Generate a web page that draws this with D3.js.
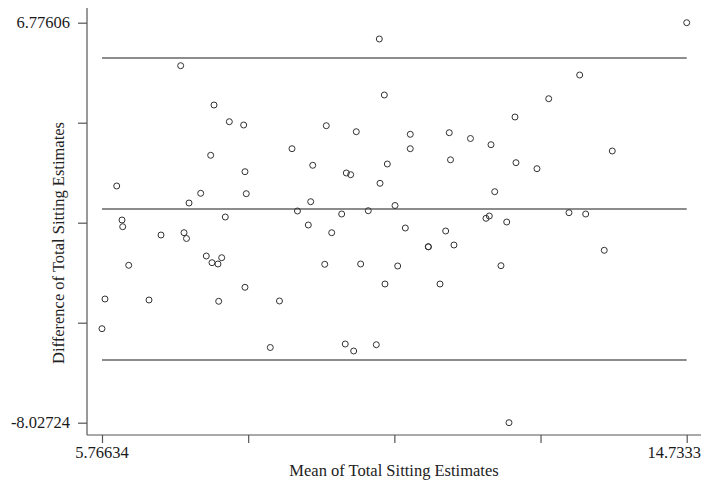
<!DOCTYPE html>
<html>
<head>
<meta charset="utf-8">
<script src="https://cdn.jsdelivr.net/npm/d3@7/dist/d3.min.js"></script>
<style>
html,body{margin:0;padding:0;background:#fff;}
svg{display:block;font-family:"Liberation Serif","Times New Roman",serif;}
</style>
</head>
<body>
<svg id="chart" width="702" height="480"></svg>
<script>
const xDomain = [5.76634, 14.7333];
const yDomain = [-8.02724, 6.77606];
const xTickLabels = ["5.76634", "14.7333"];
const yTickLabels = ["-8.02724", "6.77606"];
const meanDiff = -0.118;
const upperLimit = 5.47;
const lowerLimit = -5.707;

const meanValues = [5.766,5.812,5.992,6.073,6.084,6.176,6.487,6.671,6.973,7.024,7.062,7.101,7.280,7.366,7.433,7.453,7.484,7.545,7.556,7.602,7.657,7.719,7.939,7.959,7.979,7.959,8.347,8.488,8.680,8.764,8.930,8.967,8.998,9.182,9.206,9.289,9.442,9.497,9.513,9.580,9.626,9.666,9.733,9.850,9.973,10.019,10.030,10.096,10.106,10.142,10.260,10.301,10.418,10.494,10.494,10.770,10.772,10.950,11.037,11.092,11.111,11.164,11.417,11.655,11.706,11.732,11.789,11.885,11.973,12.008,12.100,12.115,12.437,12.617,12.928,13.092,13.184,13.469,13.592,14.7333];
const diffValues = [-4.548,-3.449,0.733,-0.526,-0.774,-2.202,-3.486,-1.081,5.185,-0.996,-1.210,0.103,0.462,-1.858,1.869,-2.106,3.730,-2.154,-3.534,-1.921,-0.415,3.112,2.990,1.262,0.448,-3.016,-5.244,-3.523,2.113,-0.193,-0.711,0.152,1.499,-2.165,2.964,-0.996,-0.304,-5.115,1.214,1.151,-5.374,2.742,-2.154,-0.182,-5.141,6.173,0.833,4.100,-2.894,1.547,0.011,-2.228,-0.822,2.646,2.113,-1.514,-1.518,-2.894,-0.933,2.705,1.702,-1.451,2.490,-0.463,-0.378,2.261,0.522,-2.217,-0.600,-8.02724,3.286,1.595,1.373,3.963,-0.256,4.840,-0.304,-1.647,2.028,6.77606];

const svg = d3.select("#chart");
const x = d3.scaleLinear().domain(xDomain).range([102, 686.7]);
const y = d3.scaleLinear().domain(yDomain).range([422.7, 22.7]);

const axisColor = "#555";
const xTicks = d3.range(5).map(i => xDomain[0] + i * (xDomain[1] - xDomain[0]) / 4);
const yTicks = d3.range(5).map(i => yDomain[0] + i * (yDomain[1] - yDomain[0]) / 4);

// Y axis
const yAxis = d3.axisLeft(y).tickValues(yTicks).tickSize(9).tickFormat(() => "");
const gy = svg.append("g").attr("transform", "translate(87,0)").call(yAxis);
gy.select(".domain").attr("d", "M0,8V435");
gy.selectAll("path,line").attr("stroke", axisColor).attr("stroke-width", 1.2);

// X axis
const xAxis = d3.axisBottom(x).tickValues(xTicks).tickSize(8).tickFormat(() => "");
const gx = svg.append("g").attr("transform", "translate(0,435)").call(xAxis);
gx.select(".domain").attr("d", "M87,0H701");
gx.selectAll("path,line").attr("stroke", axisColor).attr("stroke-width", 1.2);

// tick labels
const lblSize = 16.5;
svg.append("text").attr("x", 70).attr("y", y(yDomain[1]) + 5.5).attr("text-anchor", "end")
  .attr("font-size", lblSize).attr("fill", "#1a1a1a").text(yTickLabels[1]);
svg.append("text").attr("x", 70).attr("y", y(yDomain[0]) + 5.5).attr("text-anchor", "end")
  .attr("font-size", lblSize).attr("fill", "#1a1a1a").text(yTickLabels[0]);
svg.append("text").attr("x", x(xDomain[0])).attr("y", 458).attr("text-anchor", "middle")
  .attr("font-size", lblSize).attr("fill", "#1a1a1a").text(xTickLabels[0]);
svg.append("text").attr("x", 701).attr("y", 458).attr("text-anchor", "end")
  .attr("font-size", lblSize).attr("fill", "#1a1a1a").text(xTickLabels[1]);

// axis titles
svg.append("text").attr("x", 394).attr("y", 476).attr("text-anchor", "middle")
  .attr("font-size", 16.5).attr("fill", "#222").text("Mean of Total Sitting Estimates");
svg.append("text").attr("transform", "translate(64,243) rotate(-90)").attr("text-anchor", "middle")
  .attr("font-size", 16.5).attr("fill", "#222").text("Difference of Total Sitting Estimates");

// reference lines
const refs = [upperLimit, meanDiff, lowerLimit];
svg.append("g").selectAll("line").data(refs).join("line")
  .attr("x1", x(xDomain[0])).attr("x2", x(xDomain[1]))
  .attr("y1", d => y(d)).attr("y2", d => y(d))
  .attr("stroke", "#666").attr("stroke-width", 1.5);

// points
const pts = meanValues.map((m, i) => ({m, d: diffValues[i]}));
svg.append("g").selectAll("circle").data(pts).join("circle")
  .attr("cx", p => x(p.m)).attr("cy", p => y(p.d)).attr("r", 3)
  .attr("fill", "none").attr("stroke", "#333").attr("stroke-width", 1);
</script>
</body>
</html>
